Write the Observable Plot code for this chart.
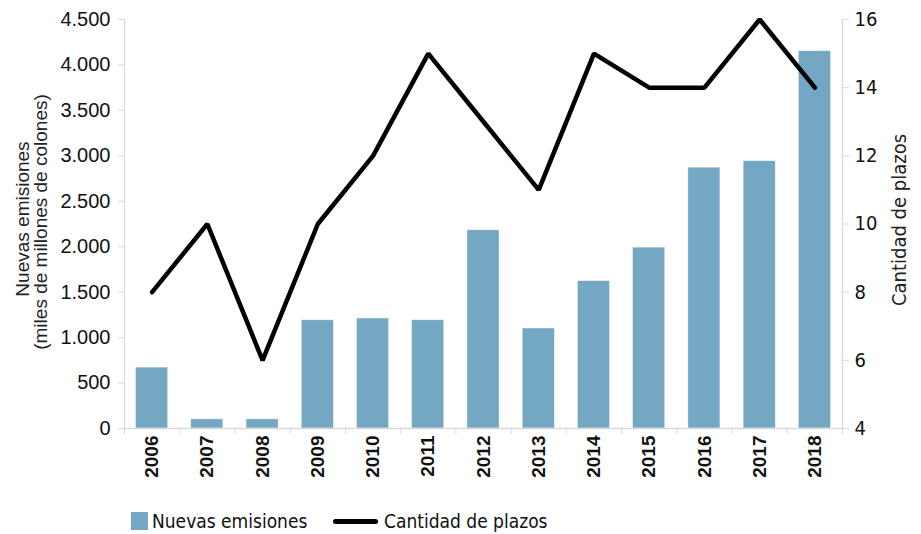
<!DOCTYPE html>
<html><head><meta charset="utf-8">
<script src="https://cdn.jsdelivr.net/npm/d3@7"></script>
<script src="https://cdn.jsdelivr.net/npm/@observablehq/plot@0.6"></script>
<style>
body{margin:0;background:#fff;}
#legend{position:relative;height:34px;font-family:"DejaVu Sans Condensed","DejaVu Sans",sans-serif;font-stretch:condensed;font-size:19px;color:#111;}
#legend .item{position:absolute;top:11px;height:20px;display:flex;align-items:center;white-space:nowrap;}
</style>
</head><body>
<div id="chart"></div>
<div id="legend">
 <div class="item" style="left:131px"><span style="display:inline-block;width:17px;height:18px;background:#74a7c4;margin-right:4px"></span>Nuevas emisiones</div>
 <div class="item" style="left:333px"><span style="display:inline-block;width:45px;height:5px;border-radius:2.5px;background:#000;margin-right:6px"></span>Cantidad de plazos</div>
</div>
<script>
const years = [2006,2007,2008,2009,2010,2011,2012,2013,2014,2015,2016,2017,2018];
const emisiones = [670,100,100,1190,1210,1190,2180,1100,1620,1990,2870,2940,4150];
const plazos = [8,10,6,10,12,15,13,11,15,14,14,16,14];
const leftTicks = [0,500,1000,1500,2000,2500,3000,3500,4000,4500];
const rightTicks = [4,6,8,10,12,14,16];

const loc = d3.formatLocale({decimal:",",thousands:".",grouping:[3],currency:["",""]});
const fmt = loc.format(",");
const toY = v => (v-4)/12*4500;
const fromY = y => Math.round(y/4500*12+4);
const data = years.map((y,i)=>({year:y, e:emisiones[i], p:plazos[i]}));
const bounds = d3.range(years.length+1).map(i=>years[0]-0.5+i);
const hw = 0.29;
const grey = "#d9d9d9";
const cond = "DejaVu Sans Condensed, DejaVu Sans, sans-serif";

const chart = Plot.plot({
  width:921, height:500,
  marginLeft:124, marginRight:79, marginTop:19, marginBottom:72,
  style:{fontFamily:"Liberation Sans, Arial, sans-serif", fontSize:"18px", color:"#111", background:"#fff", overflow:"visible"},
  x:{domain:[years[0]-0.5, years[years.length-1]+0.5]},
  y:{domain:[0,4500]},
  marks:[
    Plot.rectY(data,{x1:d=>d.year-hw, x2:d=>d.year+hw, y:"e", fill:"#74a7c4", stroke:"#e8eef2", strokeWidth:0.5}),
    Plot.line(data,{x:"year", y:d=>toY(d.p), stroke:"#000", strokeWidth:4.5, strokeLinejoin:"miter"}),
    Plot.ruleX([years[0]-0.5],{stroke:grey, strokeWidth:1.3}),
    Plot.ruleX([years[years.length-1]+0.5],{stroke:grey, strokeWidth:1.3}),
    Plot.ruleY([0],{stroke:grey, strokeWidth:1.3}),
    Plot.axisY({anchor:"left", ticks:leftTicks, tickFormat:fmt, tickSize:6, tickPadding:8, stroke:grey, label:null, fontSize:20}),
    Plot.axisY({anchor:"right", ticks:rightTicks.map(toY), tickFormat:d=>String(fromY(d)), tickSize:6, tickPadding:6, stroke:grey, label:null, fontSize:20, fontFamily:cond}),
    Plot.axisX({ticks:bounds, tickFormat:()=>"", tickSize:6, stroke:grey, label:null}),
    Plot.axisX({ticks:years, tickFormat:d=>String(d), tickSize:0, tickPadding:7, tickRotate:-90, label:null, fontWeight:"bold", fontSize:19}),
    Plot.text(["Nuevas emisiones"],{frameAnchor:"left", textAnchor:"middle", dx:-102, dy:-5, rotate:-90, fontSize:19, fill:"#222"}),
    Plot.text(["(miles de millones de colones)"],{frameAnchor:"left", textAnchor:"middle", dx:-84, dy:-2, rotate:-90, fontSize:19, fill:"#222"}),
    Plot.text(["Cantidad de plazos"],{frameAnchor:"right", textAnchor:"middle", dx:57, dy:-4, rotate:-90, fontSize:20, fill:"#222", fontFamily:cond})
  ]
});
document.getElementById("chart").appendChild(chart);
</script>
</body></html>
